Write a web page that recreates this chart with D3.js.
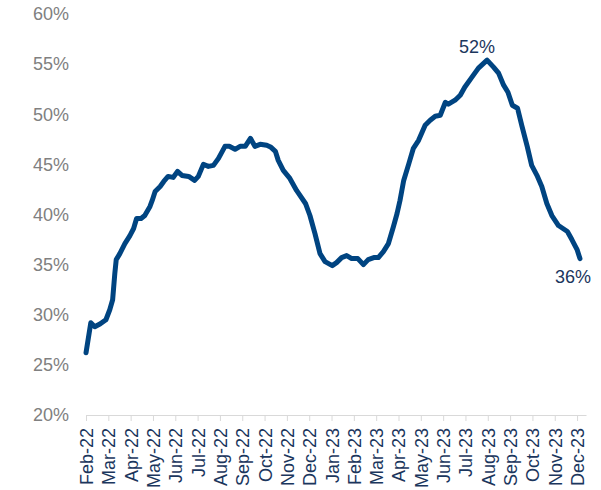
<!DOCTYPE html>
<html>
<head>
<meta charset="utf-8">
<script src="https://cdn.jsdelivr.net/npm/d3@7"></script>
<style>
  body { margin: 0; background: #fff; }
  text { font-family: "Liberation Sans", Arial, sans-serif; }
</style>
</head>
<body>
<div id="viz"></div>
<script>
// month labels on the x axis
var monthLabels = ["Feb-22","Mar-22","Apr-22","May-22","Jun-22","Jul-22","Aug-22","Sep-22","Oct-22","Nov-22","Dec-22",
  "Jan-23","Feb-23","Mar-23","Apr-23","May-23","Jun-23","Jul-23","Aug-23","Sep-23","Oct-23","Nov-23","Dec-23"];

// y ticks (percent)
var yTicks = [20, 25, 30, 35, 40, 45, 50, 55, 60];

// weekly readings
var dates = ["2022-02-01","2022-02-07","2022-02-12","2022-02-19","2022-02-26","2022-03-03","2022-03-07","2022-03-10",
  "2022-03-12","2022-03-17","2022-03-24","2022-03-31","2022-04-05","2022-04-09","2022-04-15","2022-04-20","2022-04-27",
  "2022-04-30","2022-05-04","2022-05-11","2022-05-16","2022-05-22","2022-05-29","2022-06-04","2022-06-10","2022-06-19",
  "2022-06-27","2022-07-02","2022-07-09","2022-07-16","2022-07-23","2022-07-30","2022-08-08","2022-08-14","2022-08-22",
  "2022-08-29","2022-09-05","2022-09-12","2022-09-18","2022-09-25","2022-10-04","2022-10-10","2022-10-16","2022-10-20",
  "2022-10-27","2022-11-05","2022-11-14","2022-11-26","2022-12-02","2022-12-09","2022-12-16","2022-12-23","2023-01-02",
  "2023-01-08","2023-01-15","2023-01-22","2023-01-29","2023-02-06","2023-02-13","2023-02-19","2023-02-26","2023-03-04",
  "2023-03-11","2023-03-18","2023-03-25","2023-03-30","2023-04-03","2023-04-08","2023-04-15","2023-04-21","2023-04-28",
  "2023-05-07","2023-05-14","2023-05-21","2023-05-28","2023-06-04","2023-06-08","2023-06-17","2023-06-24","2023-06-30",
  "2023-07-10","2023-07-19","2023-07-31","2023-08-09","2023-08-16","2023-08-23","2023-08-29","2023-09-04","2023-09-11",
  "2023-09-17","2023-09-24","2023-09-30","2023-10-08","2023-10-14","2023-10-21","2023-10-28","2023-11-06","2023-11-18",
  "2023-11-24","2023-12-01","2023-12-05"];

var shares = [26.2,29.2,28.8,29.1,29.5,30.5,31.5,34.1,
  35.5,36.1,37.1,37.9,38.6,39.6,39.6,39.9,40.8,
  41.4,42.3,42.8,43.3,43.8,43.7,44.3,43.9,43.8,
  43.4,43.8,45.0,44.8,44.9,45.6,46.8,46.8,46.5,
  46.8,46.8,47.6,46.8,47.0,46.9,46.7,46.3,45.4,
  44.4,43.6,42.4,41.1,39.9,38.1,36.1,35.3,34.9,
  35.2,35.7,35.9,35.6,35.6,35.0,35.5,35.7,35.7,
  36.3,37.1,38.8,40.1,41.4,43.4,45.1,46.6,47.4,
  48.9,49.4,49.8,49.9,51.2,51.0,51.4,51.9,52.7,
  53.7,54.6,55.4,54.7,54.1,52.9,52.2,50.9,50.6,
  48.8,46.8,44.9,43.8,42.8,41.1,39.9,38.9,38.3,
  37.5,36.5,35.6];

// callouts
var peakLabel = "52%";
var endLabel = "36%";

var width = 601, height = 490;

var svg = d3.select("#viz")
  .append("svg")
    .attr("width", width)
    .attr("height", height);

// months since Feb-22, with the day as a fraction of the month
function monthPos(s) {
  var p = s.split("-").map(Number);
  var dim = new Date(p[0], p[1], 0).getDate();
  return (p[0] - 2022) * 12 + (p[1] - 2) + (p[2] - 1) / dim;
}

var data = dates.map(function(d, i) { return {m: monthPos(d), v: shares[i]}; });

var x = d3.scaleLinear()
    .domain([0, 22.4])
    .range([86, 586]);

var y = d3.scaleLinear()
    .domain([20, 60])
    .range([415, 14]);

// x axis
var xAxis = svg.append("g")
    .attr("transform", "translate(0," + y(20) + ")")
    .call(d3.axisBottom(x)
      .tickValues(d3.range(monthLabels.length))
      .tickFormat(function(i) { return monthLabels[i]; })
      .tickSize(6)
      .tickSizeOuter(0));

xAxis.select(".domain").attr("stroke", "#d9d9d9");
xAxis.selectAll(".tick line").attr("stroke", "#d9d9d9");
xAxis.selectAll(".tick text")
    .attr("transform", "rotate(-90)")
    .attr("x", -13)
    .attr("y", 0)
    .attr("dy", "0.36em")
    .style("text-anchor", "end")
    .style("font-size", "18px")
    .attr("fill", "#1b365d");

// y axis
var yAxis = svg.append("g")
    .attr("transform", "translate(" + x(0) + ",0)")
    .call(d3.axisLeft(y)
      .tickValues(yTicks)
      .tickFormat(function(d) { return d + "%"; })
      .tickSize(0)
      .tickPadding(17));

yAxis.select(".domain").remove();
yAxis.selectAll(".tick text")
    .style("font-size", "18px")
    .attr("fill", "#808080");

// the line
svg.append("path")
    .datum(data)
    .attr("d", d3.line()
      .x(function(d) { return x(d.m); })
      .y(function(d) { return y(d.v); }))
    .attr("fill", "none")
    .attr("stroke", "#004481")
    .attr("stroke-width", 5)
    .attr("stroke-linejoin", "round")
    .attr("stroke-linecap", "round");

// callouts at the peak and at the last point
var peak = data.reduce(function(a, b) { return b.v > a.v ? b : a; });
var last = data[data.length - 1];

svg.append("text")
    .attr("x", x(peak.m) - 10)
    .attr("y", y(peak.v) - 7)
    .attr("text-anchor", "middle")
    .style("font-size", "18px")
    .attr("fill", "#1b365d")
    .text(peakLabel);

svg.append("text")
    .attr("x", x(last.m) - 7)
    .attr("y", y(last.v) + 24)
    .attr("text-anchor", "middle")
    .style("font-size", "18px")
    .attr("fill", "#1b365d")
    .text(endLabel);
</script>
</body>
</html>
